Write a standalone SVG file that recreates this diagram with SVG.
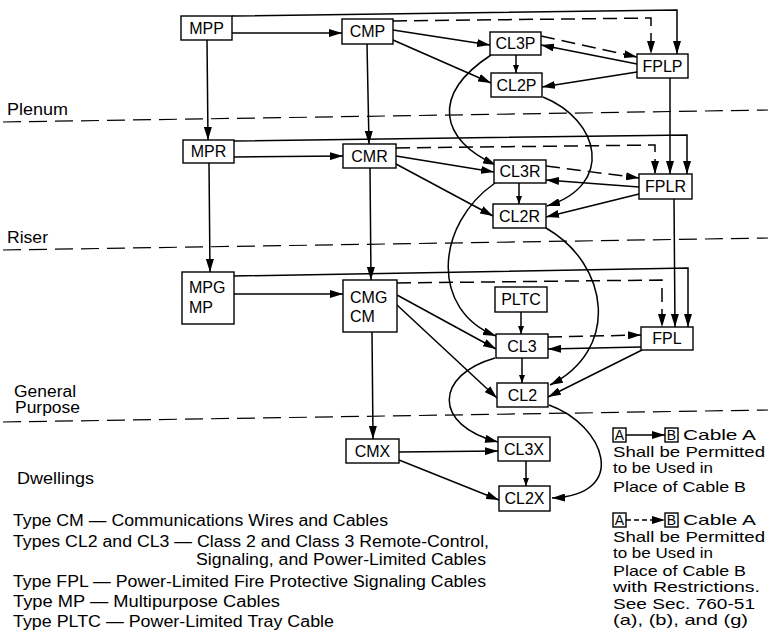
<svg xmlns="http://www.w3.org/2000/svg" width="768" height="632" viewBox="0 0 768 632">
<style>
.bg{fill:#fff}
.box{fill:#fff;stroke:#000;stroke-width:1.4}
.lbl{font-family:"Liberation Sans",Arial,sans-serif;font-size:16px;fill:#000;text-anchor:middle}
.lt{font-family:"Liberation Sans",Arial,sans-serif;font-size:16px;fill:#000}
.lg{font-family:"Liberation Sans",Arial,sans-serif;font-size:15px;fill:#000}
.sm{font-family:"Liberation Sans",Arial,sans-serif;font-size:14px;fill:#000;text-anchor:middle}
.c{fill:none;stroke:#000;stroke-width:1.5}
.d{fill:none;stroke:#000;stroke-width:1.5;stroke-dasharray:14 7}
.sep{fill:none;stroke:#000;stroke-width:1.2;stroke-dasharray:18 8}
.a{marker-end:url(#ah)}
.s{marker-end:url(#sh)}
</style>
<defs>
<marker id="ah" markerUnits="userSpaceOnUse" markerWidth="14" markerHeight="8" refX="13" refY="4" orient="auto">
<path d="M0,0 L13,4 L0,8 z" fill="#000"/>
</marker>
<marker id="sh" markerUnits="userSpaceOnUse" markerWidth="9" markerHeight="6" refX="8" refY="3" orient="auto">
<path d="M0,0 L8,3 L0,6 z" fill="#000"/>
</marker>
</defs>
<rect class="bg" x="0" y="0" width="768" height="632"/>

<g id="separators">
<path class="sep" d="M3,122 L768,110"/>
<path class="sep" d="M3,250 L768,238"/>
<path class="sep" d="M3,422 L768,410"/>
<text class="lt" x="7" y="115" textLength="61" lengthAdjust="spacingAndGlyphs">Plenum</text>
<text class="lt" x="7" y="243" textLength="41" lengthAdjust="spacingAndGlyphs">Riser</text>
<text class="lt" x="14" y="397" textLength="62" lengthAdjust="spacingAndGlyphs">General</text>
<text class="lt" x="15" y="413" textLength="65" lengthAdjust="spacingAndGlyphs">Purpose</text>
<text class="lt" x="17" y="484" textLength="77" lengthAdjust="spacingAndGlyphs">Dwellings</text>
</g>

<g id="connectors">
<path class="c a" d="M232,33 L342,33"/>
<path class="c a" d="M232,16 L677,10 L677,54"/>
<path class="d a" d="M393,21 L651,18 L651,54"/>
<path class="c a" d="M393,30 L490,45"/>
<path class="c a" d="M393,40 L491,83"/>
<path class="c s" d="M516,55 L516,73"/>
<path class="d a" d="M541,36 L637,57"/>
<path class="c a" d="M637,64 L541,45"/>
<path class="c a" d="M637,72 L542,87"/>
<path class="c a" d="M670,78 L670,174"/>
<path class="c a" d="M491,55 C430,95 440,140 496,165"/>
<path class="c a" d="M543,97 C600,120 615,185 547,206"/>

<path class="c a" d="M207,40 L208,140"/>
<path class="c a" d="M367,44 L369,144"/>
<path class="c a" d="M234,157 L343,156"/>
<path class="c a" d="M234,141 L687,135 L687,174"/>
<path class="d a" d="M396,148 L655,145 L655,174"/>
<path class="c a" d="M396,156 L494,172"/>
<path class="c a" d="M396,164 L493,216"/>
<path class="c s" d="M519,183 L519,204"/>
<path class="d a" d="M546,166 L639,178"/>
<path class="c a" d="M639,187 L546,180"/>
<path class="c a" d="M639,194 L546,217"/>
<path class="c a" d="M674,199 L675,327"/>
<path class="c a" d="M495,183 C435,225 430,310 496,336"/>
<path class="c a" d="M546,228 C610,265 620,350 550,385"/>

<path class="c a" d="M209,163 L210,272"/>
<path class="c a" d="M370,168 L371,280"/>
<path class="c a" d="M234,294 L343,294"/>
<path class="c a" d="M234,276 L688,268 L688,327"/>
<path class="d a" d="M397,283 L662,280 L662,327"/>
<path class="c a" d="M397,295 L496,349"/>
<path class="c a" d="M397,305 L497,398"/>
<path class="c s" d="M521,312 L521,334"/>
<path class="d a" d="M548,337 L641,335"/>
<path class="c a" d="M641,347 L548,349"/>
<path class="c a" d="M642,350 L548,397"/>
<path class="c s" d="M522,358 L522,383"/>
<path class="c a" d="M495,358 C435,375 432,425 498,442"/>
<path class="c a" d="M549,405 C605,425 630,495 552,498"/>

<path class="c a" d="M372,332 L373,439"/>
<path class="c a" d="M399,452 L498,451"/>
<path class="c a" d="M399,460 L499,500"/>
<path class="c s" d="M526,461 L526,486"/>
</g>

<g id="MPP"><rect class="box" x="181" y="16" width="51" height="24"/><text class="lbl" x="206.5" y="34">MPP</text></g>
<g id="CMP"><rect class="box" x="342" y="19" width="51" height="25"/><text class="lbl" x="367.5" y="37">CMP</text></g>
<g id="CL3P"><rect class="box" x="490" y="32" width="51" height="23"/><text class="lbl" x="515.5" y="49">CL3P</text></g>
<g id="CL2P"><rect class="box" x="491" y="73" width="51" height="24"/><text class="lbl" x="516.5" y="91">CL2P</text></g>
<g id="FPLP"><rect class="box" x="637" y="54" width="51" height="24"/><text class="lbl" x="662.5" y="72">FPLP</text></g>

<g id="MPR"><rect class="box" x="183" y="140" width="51" height="23"/><text class="lbl" x="208.5" y="157">MPR</text></g>
<g id="CMR"><rect class="box" x="343" y="144" width="53" height="24"/><text class="lbl" x="369.5" y="162">CMR</text></g>
<g id="CL3R"><rect class="box" x="494" y="160" width="52" height="23"/><text class="lbl" x="520" y="177">CL3R</text></g>
<g id="CL2R"><rect class="box" x="493" y="204" width="53" height="24"/><text class="lbl" x="519.5" y="222">CL2R</text></g>
<g id="FPLR"><rect class="box" x="639" y="174" width="53" height="25"/><text class="lbl" x="665.5" y="192">FPLR</text></g>

<g id="MPG"><rect class="box" x="182" y="272" width="52" height="52"/><text class="lt" x="189" y="293">MPG</text><text class="lt" x="189" y="313">MP</text></g>
<g id="CMG"><rect class="box" x="343" y="280" width="54" height="52"/><text class="lt" x="350" y="303">CMG</text><text class="lt" x="350" y="322">CM</text></g>
<g id="PLTC"><rect class="box" x="495" y="287" width="52" height="25"/><text class="lbl" x="521" y="305">PLTC</text></g>
<g id="CL3"><rect class="box" x="496" y="334" width="52" height="24"/><text class="lbl" x="522" y="352">CL3</text></g>
<g id="CL2"><rect class="box" x="497" y="383" width="51" height="24"/><text class="lbl" x="522.5" y="401">CL2</text></g>
<g id="FPL"><rect class="box" x="641" y="327" width="52" height="23"/><text class="lbl" x="667" y="344">FPL</text></g>

<g id="CMX"><rect class="box" x="346" y="439" width="53" height="24"/><text class="lbl" x="372.5" y="457">CMX</text></g>
<g id="CL3X"><rect class="box" x="498" y="437" width="52" height="24"/><text class="lbl" x="524" y="455">CL3X</text></g>
<g id="CL2X"><rect class="box" x="499" y="486" width="51" height="25"/><text class="lbl" x="524.5" y="504">CL2X</text></g>

<g id="legend">
<rect class="box" x="613" y="428" width="13" height="14"/><text class="sm" x="619.5" y="440">A</text>
<rect class="box" x="665" y="428" width="13" height="14"/><text class="sm" x="671.5" y="440">B</text>
<path class="c a" d="M626,435 L665,435"/>
<text class="lg" x="683" y="440" textLength="73" lengthAdjust="spacingAndGlyphs">Cable A</text>
<text class="lg" x="613" y="457" textLength="152" lengthAdjust="spacingAndGlyphs">Shall be Permitted</text>
<text class="lg" x="613" y="473" textLength="100" lengthAdjust="spacingAndGlyphs">to be Used in</text>
<text class="lg" x="613" y="492" textLength="133" lengthAdjust="spacingAndGlyphs">Place of Cable B</text>
<rect class="box" x="613" y="513" width="13" height="14"/><text class="sm" x="619.5" y="525">A</text>
<rect class="box" x="665" y="513" width="13" height="14"/><text class="sm" x="671.5" y="525">B</text>
<path class="c a" d="M626,520 L665,520" style="stroke-dasharray:5 3"/>
<text class="lg" x="683" y="525" textLength="73" lengthAdjust="spacingAndGlyphs">Cable A</text>
<text class="lg" x="613" y="542" textLength="152" lengthAdjust="spacingAndGlyphs">Shall be Permitted</text>
<text class="lg" x="613" y="558" textLength="100" lengthAdjust="spacingAndGlyphs">to be Used in</text>
<text class="lg" x="613" y="576" textLength="133" lengthAdjust="spacingAndGlyphs">Place of Cable B</text>
<text class="lg" x="613" y="592" textLength="147" lengthAdjust="spacingAndGlyphs">with Restrictions.</text>
<text class="lg" x="613" y="609" textLength="142" lengthAdjust="spacingAndGlyphs">See Sec. 760-51</text>
<text class="lg" x="613" y="625" textLength="135" lengthAdjust="spacingAndGlyphs">(a), (b), and (g)</text>
</g>

<g id="key">
<text class="lt" x="13" y="526" textLength="375" lengthAdjust="spacingAndGlyphs">Type CM — Communications Wires and Cables</text>
<text class="lt" x="13" y="547" textLength="476" lengthAdjust="spacingAndGlyphs">Types CL2 and CL3 — Class 2 and Class 3 Remote-Control,</text>
<text class="lt" x="196" y="565" textLength="290" lengthAdjust="spacingAndGlyphs">Signaling, and Power-Limited Cables</text>
<text class="lt" x="13" y="587" textLength="473" lengthAdjust="spacingAndGlyphs">Type FPL — Power-Limited Fire Protective Signaling Cables</text>
<text class="lt" x="13" y="607" textLength="267" lengthAdjust="spacingAndGlyphs">Type MP — Multipurpose Cables</text>
<text class="lt" x="13" y="627" textLength="321" lengthAdjust="spacingAndGlyphs">Type PLTC — Power-Limited Tray Cable</text>
</g>
</svg>
